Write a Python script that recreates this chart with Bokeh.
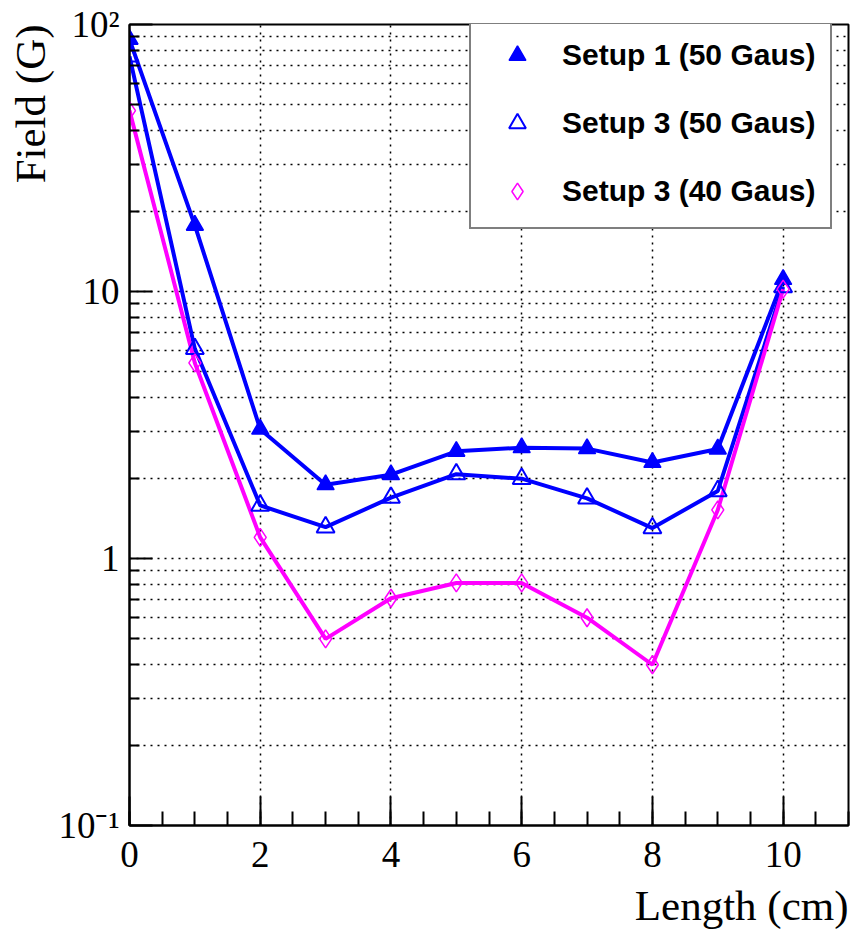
from bokeh.plotting import figure
from bokeh.models import (Range1d, FixedTicker, SingleIntervalTicker, CustomJSTickFormatter,
                          Legend, LegendItem, Title, ColumnDataSource)
from bokeh.embed import file_html
from bokeh.resources import INLINE

# ---- data ----
length = [0, 1, 2, 3, 4, 5, 6, 7, 8, 9, 10]
setup1_50 = [88, 17.7, 3.05, 1.89, 2.06, 2.52, 2.6, 2.58, 2.29, 2.57, 11.1]
setup3_50 = [76, 6.1, 1.58, 1.31, 1.69, 2.07, 1.99, 1.68, 1.30, 1.79, 10.4]
setup3_40 = [47.6, 5.4, 1.2, 0.50, 0.71, 0.81, 0.81, 0.60, 0.40, 1.52, 10.2]
series_names = ["Setup 1 (50 Gaus)", "Setup 3 (50 Gaus)", "Setup 3 (40 Gaus)"]
y_major = [0.1, 1, 10, 100]
y_labels = ["10\u207b\u00b9", "1", "10", "10\u00b2"]
y_minor = [m * d for d in (0.1, 1, 10) for m in range(2, 10)]

W, H = 853, 939
FL, FR, FT, FB = 129, 848, 24, 825

p = figure(width=W, height=H, output_backend="svg", toolbar_location=None,
           x_range=Range1d(0, 11), y_range=Range1d(0.1, 100), y_axis_type="log",
           min_border_left=FL, min_border_right=W - FR, min_border_top=FT,
           min_border_bottom=H - FB, background_fill_color="white",
           border_fill_color="white")
p.outline_line_color = "black"
p.outline_line_width = 2
p.outline_line_alpha = 1

serif = "Liberation Serif"

# x axis
xa = p.xaxis[0]
xa.ticker = SingleIntervalTicker(interval=2, num_minor_ticks=4)
xa.major_tick_in = 29
xa.major_tick_out = 0
xa.minor_tick_in = 14
xa.minor_tick_out = 0
xa.major_tick_line_width = 2
xa.minor_tick_line_width = 2
xa.axis_line_width = 2
xa.major_label_text_font = serif
xa.major_label_text_font_size = "37px"
xa.major_label_text_color = "black"
xa.major_label_standoff = 16

# y axis
ya = p.yaxis[0]
ya.ticker = FixedTicker(ticks=y_major, minor_ticks=y_minor)
ya.formatter = CustomJSTickFormatter(args=dict(vals=y_major, labs=y_labels), code="""
for (let i = 0; i < vals.length; i++) {
  if (Math.abs(Math.log10(tick) - Math.log10(vals[i])) < 1e-6) { return labs[i]; }
}
return "";
""")
ya.major_tick_in = 23
ya.major_tick_out = 0
ya.minor_tick_in = 10
ya.minor_tick_out = 0
ya.major_tick_line_width = 2
ya.minor_tick_line_width = 2
ya.axis_line_width = 2
ya.major_label_text_font = serif
ya.major_label_text_font_size = "37px"
ya.major_label_text_color = "black"
ya.major_label_standoff = 10

# grids
p.xgrid.grid_line_color = "black"
p.xgrid.grid_line_dash = "2 5"
p.xgrid.grid_line_width = 1.5
p.ygrid.grid_line_color = "black"
p.ygrid.grid_line_dash = "2 5"
p.ygrid.grid_line_width = 1.5
p.ygrid.minor_grid_line_color = "black"
p.ygrid.minor_grid_line_dash = "2 5"
p.ygrid.minor_grid_line_width = 1.5

# axis titles
p.add_layout(Title(text="Length (cm)", align="right", text_font=serif,
                   text_font_size="43px", text_font_style="normal",
                   text_color="black", standoff=20), "below")
p.add_layout(Title(text="Field (G)", align="right", text_font=serif,
                   text_font_size="43px", text_font_style="normal",
                   text_color="black", standoff=4), "left")

src = ColumnDataSource(dict(x=length, s1=setup1_50, s3=setup3_50, s4=setup3_40))

blue = "#0000ff"
mag = "#ff00ff"

p.line("x", "s1", source=src, line_color=blue, line_width=4)
p.line("x", "s3", source=src, line_color=blue, line_width=4)
p.line("x", "s4", source=src, line_color=mag, line_width=4)

r1 = p.scatter("x", "s1", source=src, marker="triangle", size=17,
               fill_color=blue, line_color=blue, line_width=1.5)
r2 = p.scatter("x", "s3", source=src, marker="triangle", size=18,
               fill_alpha=0, line_color=blue, line_width=2)
r3 = p.scatter("x", "s4", source=src, marker="diamond", size=18,
               fill_alpha=0, line_color=mag, line_width=1.5)

legend = Legend(items=[LegendItem(label=series_names[0], renderers=[r1]),
                       LegendItem(label=series_names[1], renderers=[r2]),
                       LegendItem(label=series_names[2], renderers=[r3])],
                location=(469 - FL, FB - 229),
                label_text_font="Liberation Sans", label_text_font_size="30px",
                label_text_font_style="bold", label_text_color="black",
                glyph_width=62, glyph_height=42, label_height=42,
                label_standoff=14, spacing=26, padding=15, margin=0,
                border_line_color="black", border_line_width=2,
                background_fill_color="white", background_fill_alpha=1)
p.add_layout(legend)

open("out.html", "w").write(file_html(p, INLINE))
